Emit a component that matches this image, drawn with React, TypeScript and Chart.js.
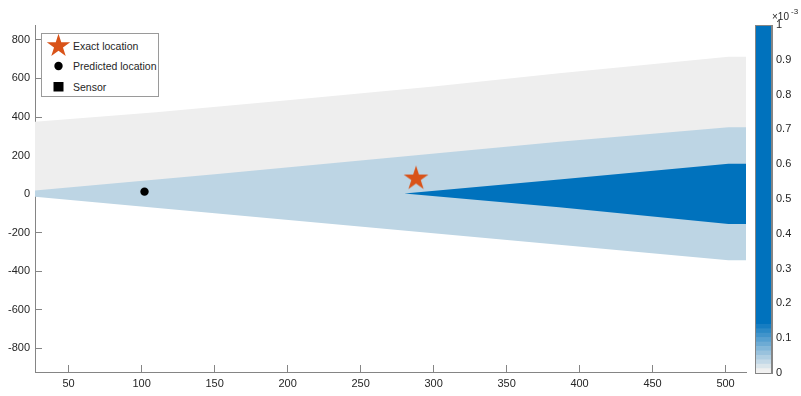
import React, { useEffect, useRef } from 'react';
import { Chart, registerables } from 'chart.js';

Chart.register(...registerables);

// ---- axes ----
const xLimits = [27, 514];
const yLimits = [-922, 877];
const xTicks = [50, 100, 150, 200, 250, 300, 350, 400, 450, 500];
const yTicks = [-800, -600, -400, -200, 0, 200, 400, 600, 800];

// ---- likelihood regions (upper / lower boundaries) ----
// light gray band above the cone
const outerX = [27, 110, 200, 300, 386, 502, 514];
const outerY = [375, 425, 487, 558, 627, 713, 713];
// light blue cone
const coneX = [27, 152, 386, 502, 514];
const coneTopY = [19, 105, 272, 347, 347];
const coneBottomY = [-14, -100, -262, -342, -342];
// dark blue core
const coreX = [280, 386, 502, 514];
const coreTopY = [3, 76, 158, 158];
const coreBottomY = [3, -68, -155, -155];

// ---- markers ----
const exactLocation = { x: 288, y: 81 };
const predictedLocation = { x: 102, y: 13 };
const legendLabels = ['Exact location', 'Predicted location', 'Sensor'];

// ---- colorbar ----
const colorbarLimits = [0, 1];
const colorbarTicks = [0, 0.1, 0.2, 0.3, 0.4, 0.5, 0.6, 0.7, 0.8, 0.9, 1];
const colorbarExponent = '-3';
const rampTop = 0.14;
const rampSteps = 11;

const FONT = "'Liberation Sans', Arial, Helvetica, sans-serif";
const TEXT = '#262626';
const AXIS = '#858585';
const GRAY = 'rgb(238,238,238)';
const LIGHT_BLUE = 'rgb(189,213,228)';
const DARK_BLUE = 'rgb(0,114,189)';
const ORANGE = '#D95319';
const LOW = [240, 240, 240];
const HIGH = [0, 114, 189];

function polygon(xs: number[], top: number[], bottom: number[]) {
  const pts = xs.map((x, i) => ({ x, y: top[i] }));
  for (let i = xs.length - 1; i >= 0; i--) pts.push({ x: xs[i], y: bottom[i] });
  return pts;
}

function starPoints(cx: number, cy: number, R: number, ratio = 0.382) {
  const pts: [number, number][] = [];
  for (let k = 0; k < 10; k++) {
    const a = -Math.PI / 2 + (k * Math.PI) / 5;
    const r = k % 2 === 0 ? R : R * ratio;
    pts.push([cx + r * Math.cos(a), cy + r * Math.sin(a)]);
  }
  return pts;
}

function makeStarImage(R: number, color: string) {
  const size = Math.ceil(2 * R + 2);
  const c = document.createElement('canvas');
  c.width = size;
  c.height = size;
  const ctx = c.getContext('2d')!;
  ctx.fillStyle = color;
  ctx.beginPath();
  starPoints(size / 2, size / 2, R).forEach(([x, y], i) => (i ? ctx.lineTo(x, y) : ctx.moveTo(x, y)));
  ctx.closePath();
  ctx.fill();
  return c;
}

function mix(t: number) {
  const c = LOW.map((v, i) => Math.round(v + (HIGH[i] - v) * t));
  return `rgb(${c[0]},${c[1]},${c[2]})`;
}

const fixedTicks = (values: number[]) => (s: any) => {
  s.ticks = values.map((value) => ({ value }));
};

const framePlugin = {
  id: 'frame',
  afterDraw(chart: any) {
    const { ctx, chartArea: a } = chart;
    ctx.save();
    ctx.strokeStyle = AXIS;
    ctx.lineWidth = 1;
    ctx.strokeRect(Math.round(a.left) + 0.5, Math.round(a.top) + 0.5, Math.round(a.right - a.left) - 1, Math.round(a.bottom - a.top));
    ctx.restore();
  },
};

export default function App() {
  const mainRef = useRef<HTMLCanvasElement>(null);
  const barRef = useRef<HTMLCanvasElement>(null);

  useEffect(() => {
    const starImg = makeStarImage(13, ORANGE);
    const tickFont = { family: FONT, size: 11 };
    const shape = (data: any[], color: string) => ({
      data,
      showLine: true,
      fill: 'shape',
      backgroundColor: color,
      borderColor: 'rgba(0,0,0,0)',
      borderWidth: 0,
      pointRadius: 0,
      pointHoverRadius: 0,
      tension: 0,
    });

    const main = new Chart(mainRef.current!, {
      type: 'scatter',
      data: {
        datasets: [
          { data: [exactLocation], pointStyle: starImg as any, pointRadius: 13, backgroundColor: ORANGE },
          { data: [predictedLocation], pointStyle: 'circle', pointRadius: 4.2, backgroundColor: '#000', borderWidth: 0 },
          shape(polygon(coreX, coreTopY, coreBottomY), DARK_BLUE),
          shape(polygon(coneX, coneTopY, coneBottomY), LIGHT_BLUE),
          shape(polygon(outerX, outerY, outerX.map(() => 0)), GRAY),
        ] as any,
      },
      options: {
        animation: false,
        responsive: false,
        maintainAspectRatio: false,
        layout: { padding: { top: 25, right: 55, left: 0, bottom: 0 } },
        plugins: { legend: { display: false }, tooltip: { enabled: false } },
        scales: {
          x: {
            type: 'linear',
            position: 'bottom',
            min: xLimits[0],
            max: xLimits[1],
            afterBuildTicks: fixedTicks(xTicks),
            afterFit: (s: any) => { s.height = 24; },
            grid: { drawOnChartArea: false, drawTicks: true, tickLength: -7, color: AXIS },
            border: { color: AXIS, width: 1 },
            ticks: { padding: 12, color: TEXT, font: tickFont, maxRotation: 0, autoSkip: false, callback: (v: any) => String(v) },
          },
          y: {
            type: 'linear',
            min: yLimits[0],
            max: yLimits[1],
            afterBuildTicks: fixedTicks(yTicks),
            afterFit: (s: any) => { s.width = 35; },
            grid: { drawOnChartArea: false, drawTicks: true, tickLength: -7, color: AXIS },
            border: { color: AXIS, width: 1 },
            ticks: { padding: 12, color: TEXT, font: tickFont, autoSkip: false, callback: (v: any) => String(v) },
          },
        },
      } as any,
    });

    // colormap: a short ramp from light gray to blue, then solid blue
    const bands: { lo: number; hi: number; color: string }[] = [];
    for (let i = 0; i < rampSteps; i++) {
      bands.push({ lo: (i * rampTop) / rampSteps, hi: ((i + 1) * rampTop) / rampSteps, color: mix(i / rampSteps) });
    }
    bands.push({ lo: rampTop, hi: colorbarLimits[1], color: DARK_BLUE });

    const bar = new Chart(barRef.current!, {
      type: 'bar',
      data: {
        labels: [''],
        datasets: bands.map((b) => ({
          data: [[b.lo, b.hi]],
          backgroundColor: b.color,
          borderColor: b.color,
          borderWidth: 0,
          grouped: false,
          barPercentage: 1,
          categoryPercentage: 1,
        })) as any,
      },
      options: {
        animation: false,
        responsive: false,
        maintainAspectRatio: false,
        layout: { padding: { top: 25, left: 7, bottom: 23, right: 0 } },
        plugins: { legend: { display: false }, tooltip: { enabled: false } },
        scales: {
          x: { display: false },
          y: {
            position: 'right',
            min: colorbarLimits[0],
            max: colorbarLimits[1],
            afterBuildTicks: fixedTicks(colorbarTicks),
            afterFit: (s: any) => { s.width = 29; },
            grid: { drawOnChartArea: false, drawTicks: true, tickLength: -4, color: AXIS },
            border: { color: AXIS, width: 1 },
            ticks: { padding: 8, color: TEXT, font: tickFont, callback: (v: any) => String(Math.round(v * 10) / 10) },
          },
        },
      } as any,
      plugins: [framePlugin],
    });

    return () => {
      main.destroy();
      bar.destroy();
    };
  }, []);

  const legendStar = starPoints(16.5, 12, 12.3).map((p) => p.join(',')).join(' ');
  const textStyle: React.CSSProperties = {
    position: 'absolute',
    left: 31,
    fontFamily: FONT,
    fontSize: 10.5,
    lineHeight: '13px',
    color: TEXT,
    whiteSpace: 'nowrap',
  };

  return (
    <div style={{ position: 'absolute', left: 0, top: 0, width: 801, height: 396, background: '#fff', overflow: 'hidden' }}>
      <canvas ref={mainRef} width={801} height={396} style={{ position: 'absolute', left: 0, top: 0, width: 801, height: 396 }} />
      <canvas ref={barRef} width={53} height={396} style={{ position: 'absolute', left: 748, top: 0, width: 53, height: 396 }} />
      <div style={{ position: 'absolute', left: 772, top: 11, fontFamily: FONT, fontSize: 10, lineHeight: '12px', color: TEXT }}>×10</div>
      <div style={{ position: 'absolute', left: 791, top: 7, fontFamily: FONT, fontSize: 8, lineHeight: '10px', color: TEXT }}>{colorbarExponent}</div>
      <div style={{ position: 'absolute', left: 41, top: 33, width: 118, height: 64, boxSizing: 'border-box', border: '1px solid #9a9a9a', background: '#fff' }}>
        <svg width={34} height={64} style={{ position: 'absolute', left: 0, top: 0 }}>
          <polygon points={legendStar} fill={ORANGE} />
          <circle cx={16.5} cy={32} r={4.2} fill="#000" />
          <rect x={11.5} y={48} width={10} height={9.5} fill="#000" />
        </svg>
        <div style={{ ...textStyle, top: 6 }}>{legendLabels[0]}</div>
        <div style={{ ...textStyle, top: 26 }}>{legendLabels[1]}</div>
        <div style={{ ...textStyle, top: 46.5 }}>{legendLabels[2]}</div>
      </div>
    </div>
  );
}
